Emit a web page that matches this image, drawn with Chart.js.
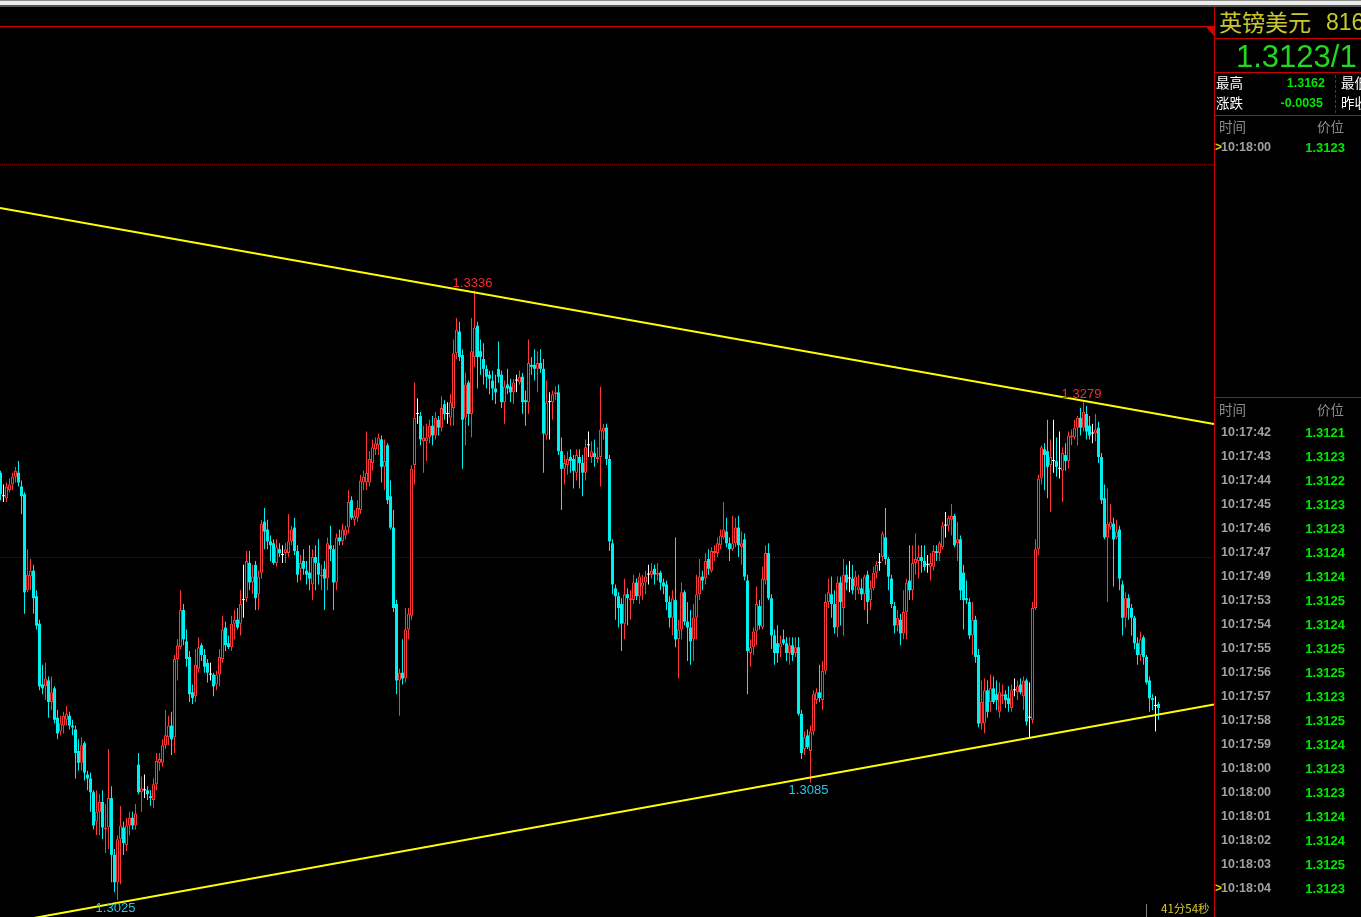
<!DOCTYPE html>
<html>
<head>
<meta charset="utf-8">
<script src="https://cdn.jsdelivr.net/npm/chart.js@4.4.1/dist/chart.umd.min.js"></script>
<style>
html, body { margin: 0; padding: 0; background: #000; width: 1361px; height: 917px; overflow: hidden; position: relative; font-family: "Liberation Sans", Arial, sans-serif; }
.a { position: absolute; white-space: nowrap; line-height: 1; }
.cn { font-family: "Noto Sans CJK SC", sans-serif; }
.hl { position: absolute; height: 1px; background: #c80000; }
.tm { color: #a0a0a0; font-weight: bold; font-size: 12.5px; }
.pr { color: #00e800; font-weight: bold; font-size: 13px; text-align: right; }
#c { position: absolute; left: 0; top: 7px; }
</style>
</head>
<body>
<!-- window chrome strip -->
<div class="a" style="left:0;top:0;width:1361px;height:1px;background:#8c8c8c"></div>
<div class="a" style="left:0;top:1px;width:1361px;height:4px;background:#ececec"></div>
<div class="a" style="left:0;top:5px;width:1361px;height:2px;background:#555"></div>

<canvas id="c" width="1214" height="910"></canvas>

<!-- top red line + marker -->
<div class="hl" style="left:0;top:26px;width:1214px;background:#d80000"></div>
<div class="a" style="left:1206px;top:27px;width:0;height:0;border-top:9px solid #d80000;border-left:8px solid transparent"></div>

<!-- right panel -->
<div class="a" style="left:1214px;top:7px;width:1px;height:910px;background:#c80000"></div>
<div class="a cn" style="left:1219px;top:10px;font-size:23px;color:#c8c82d">英镑美元</div>
<div class="a" style="left:1326px;top:11px;font-size:23px;color:#c8c82d">816</div>
<div class="hl" style="left:1214px;top:38px;width:147px"></div>
<div class="a" style="left:1236px;top:41px;font-size:31px;color:#22d822">1.3123/1</div>
<div class="hl" style="left:1214px;top:72px;width:147px"></div>
<div class="a cn" style="left:1216px;top:76px;font-size:13.5px;color:#fff">最高</div>
<div class="a pr" style="left:1270px;width:55px;top:77px;font-size:12.5px">1.3162</div>
<div class="a cn" style="left:1341px;top:76px;font-size:13.5px;color:#fff">最低</div>
<div class="a cn" style="left:1216px;top:96px;font-size:13.5px;color:#fff">涨跌</div>
<div class="a pr" style="left:1268px;width:55px;top:97px;font-size:12.5px">-0.0035</div>
<div class="a cn" style="left:1341px;top:96px;font-size:13.5px;color:#fff">昨收</div>
<div class="a" style="left:1335px;top:75px;width:0;height:38px;border-left:1px dashed #c80000"></div>
<div class="hl" style="left:1214px;top:115px;width:147px"></div>
<div class="a cn" style="left:1219px;top:120px;font-size:13.5px;color:#8c8c8c">时间</div>
<div class="a cn" style="left:1317px;top:120px;font-size:13.5px;color:#8c8c8c">价位</div>
<div class="a" style="left:1215px;top:141px;font-size:12px;color:#e8d000;font-weight:bold">&gt;</div>
<div class="a tm" style="left:1221px;top:141px">10:18:00</div>
<div class="a pr" style="left:1290px;width:55px;top:141px">1.3123</div>

<div class="hl" style="left:1214px;top:397px;width:147px"></div>
<div class="a cn" style="left:1219px;top:403px;font-size:13.5px;color:#8c8c8c">时间</div>
<div class="a cn" style="left:1317px;top:403px;font-size:13.5px;color:#8c8c8c">价位</div>
<div id="ticks"></div>

<div class="a" style="left:1146px;top:904px;width:1px;height:13px;background:#808080"></div>
<div class="a cn" style="left:1161px;top:903px;font-size:11.5px;color:#d8c828">41分54秒</div>

<script>
// candle values, one per bar (left to right)
const opens = [
1.3243,1.3231,1.3230,1.3234,1.3237,1.3241,1.3243,1.3236,1.3232,1.3183,
1.3190,1.3193,1.3180,1.3166,1.3135,1.3134,1.3137,1.3126,1.3133,1.3118,
1.3111,1.3114,1.3117,1.3119,1.3114,1.3112,1.3101,1.3095,1.3105,1.3089,
1.3087,1.3080,1.3065,1.3070,1.3075,1.3061,1.3062,1.3077,1.3048,1.3034,
1.3056,1.3062,1.3053,1.3063,1.3067,1.3063,1.3094,1.3080,1.3081,1.3081,
1.3078,1.3076,1.3084,1.3095,1.3095,1.3104,1.3108,1.3114,1.3108,1.3148,
1.3154,1.3173,1.3157,1.3149,1.3131,1.3129,1.3143,1.3155,1.3150,1.3146,
1.3140,1.3140,1.3135,1.3140,1.3148,1.3164,1.3156,1.3154,1.3166,1.3168,
1.3166,1.3178,1.3179,1.3197,1.3187,1.3196,1.3181,1.3192,1.3218,1.3214,
1.3208,1.3207,1.3197,1.3204,1.3201,1.3202,1.3202,1.3208,1.3215,1.3203,
1.3194,1.3198,1.3193,1.3192,1.3186,1.3200,1.3197,1.3190,1.3194,1.3189,
1.3206,1.3204,1.3187,1.3210,1.3208,1.3211,1.3215,1.3229,1.3219,1.3220,
1.3224,1.3238,1.3238,1.3238,1.3248,1.3255,1.3257,1.3260,1.3246,1.3257,
1.3231,1.3215,1.3176,1.3137,1.3141,1.3138,1.3163,1.3170,1.3247,1.3273,
1.3272,1.3259,1.3259,1.3261,1.3267,1.3262,1.3270,1.3266,1.3278,1.3273,
1.3271,1.3276,1.3304,1.3315,1.3303,1.3271,1.3289,1.3273,1.3302,1.3318,
1.3305,1.3301,1.3296,1.3293,1.3290,1.3286,1.3296,1.3293,1.3279,1.3288,
1.3287,1.3284,1.3290,1.3289,1.3292,1.3280,1.3279,1.3298,1.3298,1.3296,
1.3299,1.3296,1.3262,1.3279,1.3279,1.3283,1.3284,1.3254,1.3245,1.3247,
1.3251,1.3250,1.3243,1.3251,1.3248,1.3243,1.3257,1.3251,1.3253,1.3250,
1.3251,1.3264,1.3266,1.3250,1.3207,1.3184,1.3180,1.3176,1.3166,1.3181,
1.3178,1.3178,1.3187,1.3180,1.3185,1.3187,1.3191,1.3191,1.3194,1.3191,
1.3192,1.3187,1.3186,1.3177,1.3169,1.3178,1.3158,1.3163,1.3182,1.3167,
1.3164,1.3158,1.3169,1.3181,1.3190,1.3189,1.3199,1.3193,1.3202,1.3202,
1.3206,1.3210,1.3213,1.3207,1.3204,1.3207,1.3215,1.3205,1.3209,1.3188,
1.3151,1.3154,1.3162,1.3175,1.3164,1.3188,1.3202,1.3179,1.3160,1.3156,
1.3154,1.3158,1.3156,1.3151,1.3155,1.3151,1.3154,1.3120,1.3102,1.3109,
1.3101,1.3111,1.3127,1.3131,1.3127,1.3142,1.3177,1.3181,1.3176,1.3164,
1.3187,1.3174,1.3191,1.3189,1.3189,1.3185,1.3183,1.3184,1.3181,1.3191,
1.3178,1.3184,1.3192,1.3197,1.3200,1.3210,1.3199,1.3189,1.3175,1.3165,
1.3168,1.3161,1.3172,1.3188,1.3183,1.3197,1.3198,1.3200,1.3198,1.3196,
1.3195,1.3195,1.3203,1.3202,1.3205,1.3216,1.3216,1.3219,1.3221,1.3207,
1.3209,1.3192,1.3179,1.3177,1.3160,1.3168,1.3150,1.3115,1.3115,1.3132,
1.3126,1.3133,1.3130,1.3121,1.3129,1.3130,1.3128,1.3123,1.3132,1.3131,
1.3135,1.3129,1.3137,1.3118,1.3117,1.3174,1.3204,1.3240,1.3255,1.3254,
1.3247,1.3249,1.3249,1.3245,1.3244,1.3252,1.3249,1.3261,1.3261,1.3266,
1.3271,1.3266,1.3273,1.3267,1.3263,1.3263,1.3266,1.3251,1.3230,1.3210,
1.3215,1.3217,1.3210,1.3214,1.3186,1.3169,1.3179,1.3174,1.3169,1.3156,
1.3150,1.3159,1.3149,1.3137,1.3128,1.3124,1.3125];

const highs = [
1.3244,1.3237,1.3238,1.3240,1.3243,1.3246,1.3249,1.3239,1.3233,1.3204,
1.3199,1.3196,1.3183,1.3168,1.3145,1.3146,1.3139,1.3139,1.3134,1.3122,
1.3119,1.3121,1.3124,1.3121,1.3117,1.3114,1.3107,1.3108,1.3106,1.3091,
1.3090,1.3081,1.3081,1.3079,1.3081,1.3074,1.3102,1.3083,1.3051,1.3058,
1.3073,1.3065,1.3067,1.3070,1.3070,1.3074,1.3100,1.3088,1.3089,1.3083,
1.3081,1.3087,1.3100,1.3100,1.3107,1.3122,1.3119,1.3121,1.3150,1.3158,
1.3183,1.3176,1.3163,1.3152,1.3135,1.3153,1.3159,1.3156,1.3153,1.3148,
1.3146,1.3141,1.3142,1.3153,1.3170,1.3167,1.3160,1.3170,1.3173,1.3174,
1.3183,1.3196,1.3203,1.3203,1.3196,1.3198,1.3193,1.3219,1.3225,1.3219,
1.3211,1.3209,1.3209,1.3207,1.3206,1.3207,1.3222,1.3216,1.3220,1.3206,
1.3201,1.3204,1.3198,1.3206,1.3204,1.3206,1.3209,1.3196,1.3198,1.3210,
1.3216,1.3206,1.3212,1.3214,1.3217,1.3216,1.3234,1.3231,1.3224,1.3229,
1.3242,1.3244,1.3264,1.3254,1.3260,1.3261,1.3263,1.3262,1.3260,1.3258,
1.3239,1.3224,1.3178,1.3143,1.3158,1.3174,1.3174,1.3247,1.3289,1.3281,
1.3274,1.3267,1.3268,1.3270,1.3272,1.3274,1.3272,1.3282,1.3280,1.3279,
1.3283,1.3311,1.3322,1.3320,1.3306,1.3294,1.3290,1.3322,1.3336,1.3320,
1.3311,1.3309,1.3298,1.3295,1.3295,1.3293,1.3310,1.3295,1.3290,1.3296,
1.3291,1.3291,1.3293,1.3295,1.3294,1.3285,1.3311,1.3302,1.3306,1.3305,
1.3306,1.3301,1.3290,1.3284,1.3285,1.3287,1.3288,1.3261,1.3252,1.3254,
1.3255,1.3252,1.3255,1.3255,1.3252,1.3260,1.3264,1.3259,1.3260,1.3256,
1.3287,1.3268,1.3268,1.3252,1.3209,1.3186,1.3182,1.3179,1.3189,1.3184,
1.3183,1.3191,1.3189,1.3192,1.3191,1.3193,1.3196,1.3197,1.3196,1.3197,
1.3193,1.3189,1.3188,1.3180,1.3183,1.3210,1.3168,1.3187,1.3183,1.3177,
1.3173,1.3176,1.3191,1.3199,1.3193,1.3202,1.3204,1.3205,1.3206,1.3210,
1.3214,1.3228,1.3220,1.3210,1.3221,1.3220,1.3221,1.3213,1.3212,1.3191,
1.3158,1.3164,1.3185,1.3178,1.3195,1.3206,1.3207,1.3181,1.3163,1.3165,
1.3160,1.3163,1.3159,1.3159,1.3159,1.3159,1.3159,1.3122,1.3111,1.3112,
1.3114,1.3132,1.3133,1.3145,1.3147,1.3181,1.3189,1.3190,1.3183,1.3190,
1.3190,1.3199,1.3196,1.3198,1.3196,1.3193,1.3191,1.3189,1.3191,1.3193,
1.3188,1.3195,1.3198,1.3202,1.3213,1.3225,1.3200,1.3191,1.3177,1.3173,
1.3171,1.3183,1.3189,1.3206,1.3206,1.3212,1.3206,1.3206,1.3206,1.3201,
1.3202,1.3206,1.3206,1.3208,1.3218,1.3223,1.3221,1.3227,1.3222,1.3218,
1.3211,1.3196,1.3188,1.3179,1.3177,1.3170,1.3153,1.3137,1.3138,1.3137,
1.3140,1.3139,1.3137,1.3136,1.3135,1.3132,1.3134,1.3135,1.3138,1.3137,
1.3138,1.3139,1.3138,1.3136,1.3177,1.3209,1.3242,1.3257,1.3258,1.3270,
1.3260,1.3270,1.3261,1.3264,1.3256,1.3258,1.3264,1.3265,1.3270,1.3272,
1.3276,1.3279,1.3277,1.3272,1.3268,1.3273,1.3269,1.3253,1.3237,1.3235,
1.3227,1.3220,1.3219,1.3216,1.3188,1.3182,1.3181,1.3176,1.3170,1.3159,
1.3162,1.3160,1.3150,1.3139,1.3130,1.3129,1.3126];

const lows = [
1.3229,1.3228,1.3228,1.3233,1.3234,1.3238,1.3236,1.3222,1.3171,1.3182,
1.3183,1.3171,1.3163,1.3132,1.3130,1.3127,1.3118,1.3122,1.3115,1.3107,
1.3109,1.3110,1.3114,1.3112,1.3109,1.3087,1.3091,1.3091,1.3086,1.3081,
1.3070,1.3061,1.3058,1.3058,1.3056,1.3049,1.3051,1.3034,1.3029,1.3025,
1.3033,1.3048,1.3050,1.3058,1.3061,1.3061,1.3079,1.3070,1.3077,1.3076,
1.3073,1.3072,1.3081,1.3091,1.3093,1.3102,1.3104,1.3099,1.3100,1.3137,
1.3153,1.3155,1.3144,1.3126,1.3125,1.3126,1.3141,1.3147,1.3141,1.3136,
1.3137,1.3129,1.3132,1.3134,1.3146,1.3152,1.3153,1.3152,1.3158,1.3163,
1.3160,1.3169,1.3177,1.3183,1.3181,1.3173,1.3173,1.3189,1.3204,1.3204,
1.3198,1.3196,1.3195,1.3200,1.3197,1.3197,1.3200,1.3206,1.3201,1.3187,
1.3188,1.3191,1.3186,1.3183,1.3178,1.3183,1.3186,1.3183,1.3173,1.3183,
1.3198,1.3173,1.3183,1.3206,1.3206,1.3209,1.3212,1.3219,1.3216,1.3218,
1.3222,1.3234,1.3234,1.3236,1.3244,1.3252,1.3252,1.3238,1.3234,1.3227,
1.3214,1.3172,1.3130,1.3119,1.3135,1.3136,1.3158,1.3168,1.3237,1.3268,
1.3257,1.3243,1.3249,1.3258,1.3257,1.3260,1.3262,1.3264,1.3270,1.3268,
1.3267,1.3267,1.3301,1.3300,1.3245,1.3257,1.3267,1.3261,1.3297,1.3286,
1.3293,1.3288,1.3286,1.3283,1.3280,1.3278,1.3289,1.3276,1.3268,1.3283,
1.3279,1.3278,1.3284,1.3288,1.3273,1.3267,1.3273,1.3293,1.3290,1.3284,
1.3294,1.3243,1.3260,1.3260,1.3270,1.3280,1.3252,1.3224,1.3237,1.3242,
1.3243,1.3235,1.3239,1.3235,1.3231,1.3239,1.3251,1.3248,1.3246,1.3248,
1.3236,1.3260,1.3247,1.3203,1.3181,1.3168,1.3164,1.3152,1.3158,1.3165,
1.3168,1.3176,1.3178,1.3176,1.3178,1.3181,1.3186,1.3189,1.3186,1.3188,
1.3183,1.3181,1.3173,1.3164,1.3160,1.3154,1.3138,1.3158,1.3165,1.3147,
1.3145,1.3147,1.3158,1.3178,1.3183,1.3186,1.3191,1.3192,1.3198,1.3200,
1.3204,1.3209,1.3205,1.3198,1.3203,1.3205,1.3200,1.3196,1.3188,1.3130,
1.3144,1.3150,1.3155,1.3163,1.3163,1.3186,1.3178,1.3153,1.3145,1.3146,
1.3149,1.3155,1.3147,1.3145,1.3147,1.3149,1.3119,1.3097,1.3099,1.3102,
1.3085,1.3109,1.3125,1.3126,1.3122,1.3140,1.3174,1.3169,1.3161,1.3159,
1.3165,1.3160,1.3183,1.3182,1.3181,1.3178,1.3181,1.3178,1.3173,1.3166,
1.3173,1.3183,1.3189,1.3193,1.3198,1.3196,1.3183,1.3174,1.3161,1.3162,
1.3155,1.3158,1.3158,1.3178,1.3178,1.3191,1.3189,1.3192,1.3193,1.3192,
1.3188,1.3193,1.3198,1.3198,1.3204,1.3210,1.3213,1.3211,1.3205,1.3198,
1.3178,1.3163,1.3176,1.3158,1.3150,1.3146,1.3113,1.3112,1.3110,1.3118,
1.3121,1.3125,1.3122,1.3118,1.3125,1.3123,1.3121,1.3121,1.3129,1.3127,
1.3130,1.3122,1.3114,1.3108,1.3115,1.3173,1.3201,1.3237,1.3234,1.3230,
1.3223,1.3243,1.3241,1.3240,1.3228,1.3244,1.3245,1.3257,1.3260,1.3257,
1.3262,1.3264,1.3260,1.3260,1.3258,1.3259,1.3248,1.3227,1.3209,1.3177,
1.3214,1.3185,1.3209,1.3183,1.3160,1.3164,1.3168,1.3160,1.3153,1.3145,
1.3147,1.3145,1.3135,1.3121,1.3122,1.3111,1.3117];

const closes = [
1.3232,1.3231,1.3236,1.3237,1.3241,1.3244,1.3238,1.3231,1.3182,1.3191,
1.3193,1.3179,1.3165,1.3134,1.3133,1.3138,1.3126,1.3131,1.3117,1.3110,
1.3115,1.3119,1.3120,1.3114,1.3113,1.3100,1.3095,1.3104,1.3090,1.3087,
1.3080,1.3063,1.3070,1.3075,1.3062,1.3062,1.3077,1.3048,1.3034,1.3056,
1.3063,1.3054,1.3063,1.3067,1.3063,1.3069,1.3080,1.3082,1.3081,1.3079,
1.3077,1.3084,1.3096,1.3097,1.3104,1.3109,1.3114,1.3107,1.3148,1.3155,
1.3173,1.3158,1.3148,1.3130,1.3128,1.3145,1.3154,1.3150,1.3144,1.3141,
1.3140,1.3134,1.3140,1.3149,1.3163,1.3155,1.3154,1.3166,1.3168,1.3164,
1.3176,1.3178,1.3198,1.3187,1.3190,1.3179,1.3190,1.3217,1.3213,1.3208,
1.3206,1.3197,1.3205,1.3202,1.3201,1.3204,1.3208,1.3214,1.3203,1.3191,
1.3197,1.3194,1.3191,1.3189,1.3200,1.3197,1.3191,1.3191,1.3189,1.3207,
1.3204,1.3187,1.3210,1.3208,1.3214,1.3214,1.3228,1.3220,1.3221,1.3225,
1.3239,1.3241,1.3243,1.3250,1.3256,1.3258,1.3261,1.3246,1.3249,1.3229,
1.3215,1.3174,1.3137,1.3141,1.3138,1.3163,1.3171,1.3245,1.3271,1.3273,
1.3260,1.3261,1.3261,1.3267,1.3262,1.3271,1.3266,1.3276,1.3273,1.3273,
1.3279,1.3304,1.3316,1.3302,1.3270,1.3288,1.3273,1.3305,1.3317,1.3302,
1.3302,1.3296,1.3292,1.3291,1.3286,1.3284,1.3292,1.3279,1.3287,1.3286,
1.3284,1.3289,1.3290,1.3292,1.3279,1.3279,1.3299,1.3297,1.3296,1.3299,
1.3296,1.3263,1.3279,1.3279,1.3283,1.3284,1.3254,1.3245,1.3248,1.3250,
1.3249,1.3244,1.3252,1.3248,1.3243,1.3256,1.3257,1.3254,1.3251,1.3251,
1.3265,1.3266,1.3250,1.3208,1.3186,1.3180,1.3174,1.3166,1.3181,1.3179,
1.3179,1.3187,1.3180,1.3190,1.3187,1.3190,1.3191,1.3193,1.3191,1.3192,
1.3187,1.3185,1.3177,1.3169,1.3179,1.3158,1.3163,1.3182,1.3167,1.3164,
1.3157,1.3169,1.3181,1.3190,1.3188,1.3198,1.3194,1.3203,1.3203,1.3207,
1.3211,1.3214,1.3207,1.3204,1.3207,1.3215,1.3206,1.3207,1.3190,1.3152,
1.3154,1.3162,1.3176,1.3165,1.3189,1.3202,1.3179,1.3160,1.3151,1.3151,
1.3156,1.3156,1.3151,1.3155,1.3150,1.3154,1.3120,1.3100,1.3108,1.3103,
1.3111,1.3130,1.3131,1.3128,1.3142,1.3177,1.3182,1.3176,1.3164,1.3187,
1.3177,1.3191,1.3187,1.3189,1.3183,1.3190,1.3185,1.3181,1.3190,1.3177,
1.3184,1.3192,1.3196,1.3197,1.3212,1.3199,1.3190,1.3176,1.3165,1.3169,
1.3161,1.3172,1.3187,1.3183,1.3197,1.3199,1.3200,1.3198,1.3195,1.3196,
1.3197,1.3203,1.3202,1.3207,1.3216,1.3216,1.3220,1.3221,1.3206,1.3209,
1.3183,1.3178,1.3178,1.3160,1.3168,1.3149,1.3115,1.3126,1.3132,1.3121,
1.3133,1.3126,1.3127,1.3131,1.3130,1.3127,1.3125,1.3132,1.3132,1.3134,
1.3131,1.3137,1.3116,1.3118,1.3174,1.3204,1.3240,1.3256,1.3252,1.3246,
1.3251,1.3249,1.3246,1.3245,1.3253,1.3249,1.3262,1.3262,1.3266,1.3271,
1.3266,1.3274,1.3264,1.3262,1.3263,1.3265,1.3251,1.3229,1.3210,1.3217,
1.3218,1.3209,1.3213,1.3189,1.3169,1.3179,1.3174,1.3169,1.3156,1.3150,
1.3158,1.3149,1.3136,1.3128,1.3127,1.3124,1.3123];

// dotted price levels
const gridLevels = [1.32, 1.34];
// trend lines: [x index, price] at both ends
const trendX = [-0.1667, 404.5];
const upperTrend = [1.33781, 1.32678];
const lowerTrend = [1.30127, 1.31248];
// marked extremes (bar index)
const markIdx = [39, 158, 270, 361];
const markSide = ['low', 'high', 'low', 'high'];
// tick list in the right panel
const tickTimes = ['10:17:42','10:17:43','10:17:44','10:17:45','10:17:46','10:17:47','10:17:49','10:17:53','10:17:54','10:17:55',
                   '10:17:56','10:17:57','10:17:58','10:17:59','10:18:00','10:18:00','10:18:01','10:18:02','10:18:03','10:18:04'];
const tickPrices = ['1.3121','1.3123','1.3122','1.3123','1.3123','1.3124','1.3124','1.3125','1.3124','1.3125',
                    '1.3125','1.3123','1.3125','1.3124','1.3123','1.3123','1.3124','1.3124','1.3125','1.3123'];

const UP = '#ff3636', DOWN = '#00f0f0', FLAT = '#ffffff';
const col = closes.map((c, i) => c > opens[i] ? UP : (c < opens[i] ? DOWN : FLAT));

// right panel tick rows
const box = document.getElementById('ticks');
tickTimes.forEach((t, k) => {
    const y = 432 + k * 24 - 6;
    let html = '';
    if (k === tickTimes.length - 1) html += `<div class="a" style="left:1215px;top:${y}px;font-size:12px;color:#e8d000;font-weight:bold">&gt;</div>`;
    html += `<div class="a tm" style="left:1221px;top:${y}px">${t}</div>`;
    html += `<div class="a pr" style="left:1290px;width:55px;top:${y}px">${tickPrices[k]}</div>`;
    box.insertAdjacentHTML('beforeend', html);
});

const markPlugin = {
    id: 'marks',
    afterDatasetsDraw(chart) {
        const { ctx, scales: { x, y } } = chart;
        ctx.save();
        ctx.font = '13px "Liberation Sans", Arial, sans-serif';
        ctx.textAlign = 'center';
        markIdx.forEach((k, j) => {
            const high = markSide[j] === 'high';
            const v = high ? highs[k] : lows[k];
            const px = x.getPixelForValue(k) - 2;
            const py = y.getPixelForValue(v);
            ctx.fillStyle = high ? '#ee3030' : '#22c8ee';
            ctx.textBaseline = high ? 'bottom' : 'top';
            ctx.fillText(v.toFixed(4), px, high ? py - 1 : py + 2);
        });
        ctx.restore();
    }
};

new Chart(document.getElementById('c'), {
    type: 'bar',
    data: {
        datasets: [
            {
                type: 'line',
                data: [{ x: trendX[0], y: upperTrend[0] }, { x: trendX[1], y: upperTrend[1] }],
                borderColor: '#ffff00', borderWidth: 2, pointRadius: 0, order: 0
            },
            {
                type: 'line',
                data: [{ x: trendX[0], y: lowerTrend[0] }, { x: trendX[1], y: lowerTrend[1] }],
                borderColor: '#ffff00', borderWidth: 2, pointRadius: 0, order: 0
            },
            {
                // bodies
                data: closes.map((c, i) => ({ x: i, y: [opens[i], c] })),
                backgroundColor: closes.map((c, i) => c > opens[i] ? '#000000' : col[i]),
                borderColor: col,
                borderWidth: closes.map((c, i) => c > opens[i] ? 1 : 0),
                borderSkipped: false,
                barThickness: 3,
                minBarLength: 1,
                inflateAmount: 0,
                grouped: false,
                order: 1
            },
            {
                // wicks
                data: highs.map((h, i) => ({ x: i, y: [lows[i], h] })),
                backgroundColor: col,
                borderWidth: 0,
                barThickness: 1,
                inflateAmount: 0,
                grouped: false,
                order: 2
            }
        ]
    },
    options: {
        responsive: false,
        animation: false,
        events: [],
        layout: { padding: 0, autoPadding: false },
        plugins: { legend: { display: false }, tooltip: { enabled: false } },
        scales: {
            x: { type: 'linear', min: trendX[0], max: trendX[1], offset: false, display: false },
            y: {
                type: 'linear', min: 1.301633, max: 1.348061, position: 'left',
                afterBuildTicks: s => { s.ticks = gridLevels.map(v => ({ value: v })); },
                afterFit: s => { s.width = 0; },
                ticks: { display: false },
                grid: { color: '#780000', lineWidth: 1, drawTicks: false },
                border: { display: false, dash: [1, 1] }
            }
        }
    },
    plugins: [markPlugin]
});
</script>
</body>
</html>
